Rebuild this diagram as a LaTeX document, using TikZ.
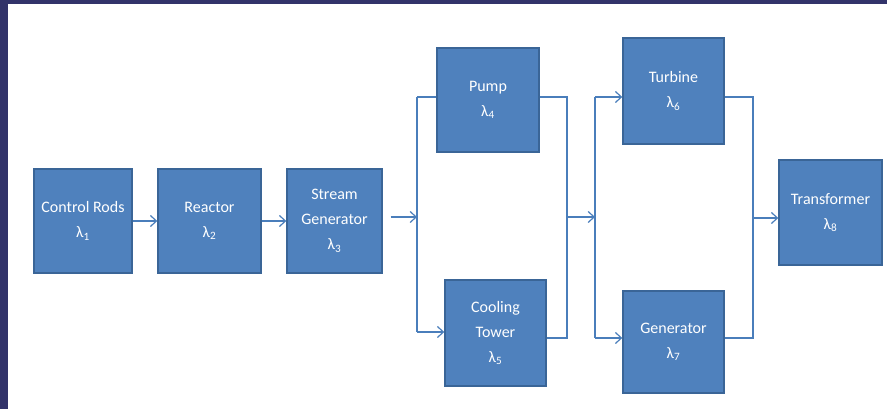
\documentclass[tikz,border=0pt]{standalone}
\usepackage{fontspec}
\setmainfont{Carlito}
\usetikzlibrary{positioning,arrows.meta}
\definecolor{boxblue}{HTML}{4F81BD}
\definecolor{boxedge}{HTML}{3A6597}
\definecolor{linkblue}{HTML}{4A7EBB}
\definecolor{frameblue}{HTML}{32336A}

\begin{document}
\begin{tikzpicture}[
  x=1pt, y=-1pt,
  every node/.style = {align=center},
  block/.style = {draw=boxedge, fill=boxblue, line width=1.4pt, text=white,
    font=\fontsize{16}{25}\selectfont, inner sep=0pt},
  link/.style = {draw=linkblue, line width=1.3pt},
  >={Straight Barb[length=6pt,width=11pt,line width=1.2pt]}
]
  \useasboundingbox (0,0) rectangle (887,409);
  \fill[white] (0,0) rectangle (887,409);
  \fill[frameblue] (0,0) rectangle (887,4);
  \fill[frameblue] (0,0) rectangle (8,409);

  \node[block, minimum width=98pt, minimum height=104pt] (rods) at (83,221)
    {Control Rods\\λ\textsubscript{1}};
  \node[block, minimum width=103pt, minimum height=104pt] (reactor) at (209.5,221)
    {Reactor\\λ\textsubscript{2}};
  \node[block, minimum width=95pt, minimum height=104pt] (steam) at (334.5,221)
    {Stream\\Generator\\λ\textsubscript{3}};
  \node[block, minimum width=102pt, minimum height=104pt] (pump) at (488,100)
    {Pump\\λ\textsubscript{4}};
  \node[block, minimum width=101pt, minimum height=106pt] (tower) at (495.5,333)
    {Cooling\\Tower\\λ\textsubscript{5}};
  \node[block, minimum width=101pt, minimum height=106pt] (turbine) at (673.5,91)
    {Turbine\\λ\textsubscript{6}};
  \node[block, minimum width=101pt, minimum height=102pt] (generator) at (673.5,342)
    {Generator\\λ\textsubscript{7}};
  \node[block, minimum width=103pt, minimum height=105pt] (transformer) at (830.5,212.5)
    {Transformer\\λ\textsubscript{8}};

  \coordinate (split1) at (417,217);
  \coordinate (merge1) at (567,217);
  \coordinate (split2) at (595,217);
  \coordinate (merge2) at (753,218);
  \coordinate (top1) at (417,97);
  \coordinate (bot1) at (417,332);
  \coordinate (topm1) at (567,97);
  \coordinate (botm1) at (567,338);
  \coordinate (top2) at (595,97);
  \coordinate (bot2) at (595,338);
  \coordinate (topm2) at (753,97);
  \coordinate (botm2) at (753,338);

  \draw[link,->] (rods) -- (reactor);
  \draw[link,->] (reactor) -- (steam);
  \draw[link,->,shorten <=8pt] (steam.east |- split1) -- (split1);
  \draw[link] (top1) -- (bot1);
  \draw[link] (top1) -- (top1 -| pump.west);
  \draw[link,->] (bot1) -- (bot1 -| tower.west);
  \draw[link] (topm1 -| pump.east) -- (topm1) -- (botm1) -- (botm1 -| tower.east);
  \draw[link,->] (merge1) -- (split2);
  \draw[link] (top2) -- (bot2);
  \draw[link,->] (top2) -- (top2 -| turbine.west);
  \draw[link,->] (bot2) -- (bot2 -| generator.west);
  \draw[link] (topm2 -| turbine.east) -- (topm2) -- (botm2) -- (botm2 -| generator.east);
  \draw[link,->] (merge2) -- (merge2 -| transformer.west);
\end{tikzpicture}
\end{document}
